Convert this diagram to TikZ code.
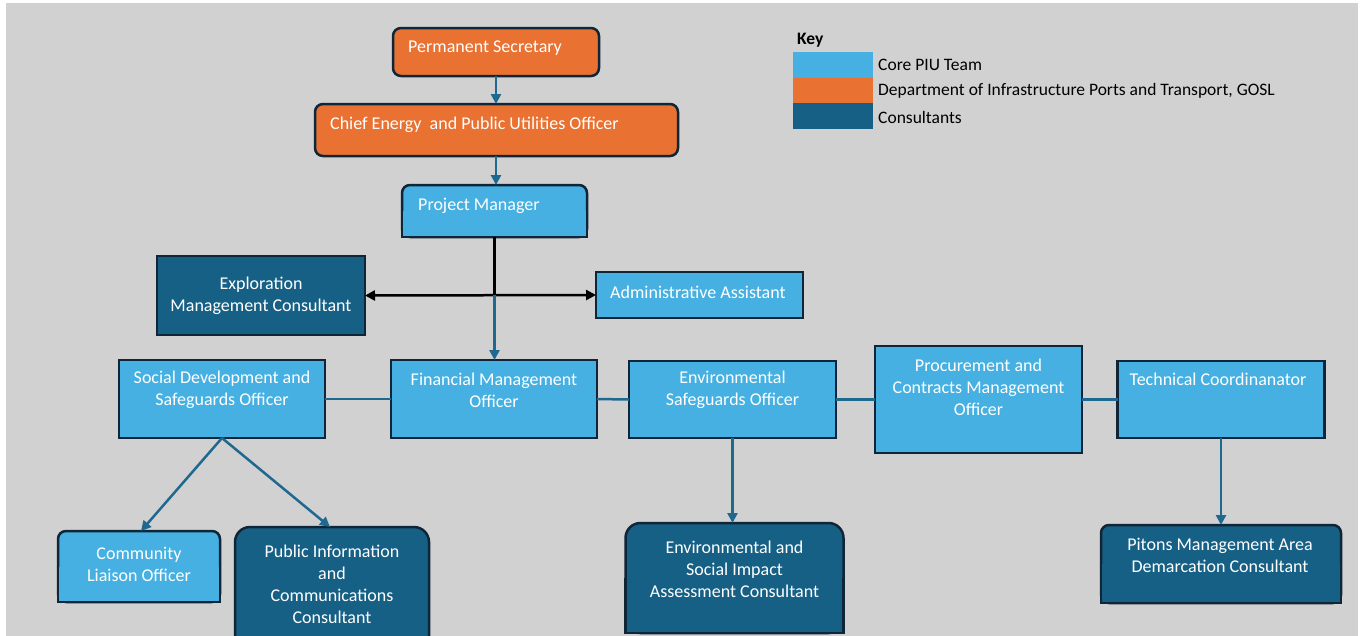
\documentclass[tikz,border=0pt]{standalone}
\usepackage{fontspec}
\setmainfont{Carlito}
\usetikzlibrary{arrows.meta}
\definecolor{bg}{HTML}{D1D1D1}
\definecolor{lb}{HTML}{45B0E1}
\definecolor{og}{HTML}{E97132}
\definecolor{db}{HTML}{176085}
\definecolor{bd}{HTML}{0E2638}
\definecolor{cn}{HTML}{1F6890}
\begin{document}
\begin{tikzpicture}[x=1pt,y=-1pt,
  box/.style={draw=bd, line width=2.5pt, rectangle, outer sep=0pt, inner sep=0pt},
  rbox/.style={box, rounded corners=8pt},
  txt/.style={text=white, font=\fontsize{18}{22}\selectfont, align=center, inner sep=0pt},
  keytxt/.style={text=black, font=\fontsize{17.5}{21}\selectfont, inner sep=0pt, anchor=west},
  swatch/.style={rectangle, draw=none, inner sep=0pt, outer sep=0pt, minimum width=80pt, minimum height=25.7pt},
  arr/.style={draw=cn, line width=2.5pt, -{Triangle[length=10pt,width=10pt]}},
  link/.style={draw=cn, line width=2.5pt},
  blk/.style={draw=black, line width=2.5pt},
  dblarr/.style={draw=black, line width=2.5pt, {Triangle[length=10pt,width=10pt]}-{Triangle[length=10pt,width=10pt]}}
]
\useasboundingbox (0,0) rectangle (1364,635);
\fill[white] (0,0) rectangle (1364,635);
\fill[bg] (6,3) rectangle (1358,640);

% top chain
\node[rbox, fill=og, minimum width=206pt, minimum height=48pt] (ps) at (496,52) {};
\node[txt, anchor=west] (psT) at (408,48) {Permanent Secretary};
\node[rbox, fill=og, minimum width=363pt, minimum height=52pt] (ce) at (496.5,130) {};
\node[txt, anchor=west] (ceT) at (330,125) {Chief Energy\ \ and Public Utilities Officer};
\node[rbox, fill=lb, minimum width=185pt, minimum height=52pt] (pm) at (494.5,211) {};
\fill[lb] (pm.west) rectangle (pm.south east);
\draw[bd, line width=2.5pt] (pm.west) |- (pm.south east) -- (pm.east);
\node[txt, anchor=west] (pmT) at (418,206) {Project Manager};

% middle level
\node[box, fill=db, minimum width=208pt, minimum height=79pt] (ex) at (261,295.5) {};
\node[txt] (exT) at (261,296) {Exploration\\Management Consultant};
\node[box, fill=lb, minimum width=207pt, minimum height=46pt] (adm) at (699.5,295) {};
\node[txt, anchor=west] (admT) at (610,292) {Administrative Assistant};

% officer row
\node[box, fill=lb, minimum width=206pt, minimum height=78pt] (sd) at (222,399) {};
\node[txt] (sdT) at (222,390) {Social Development and\\Safeguards Officer};
\node[box, fill=lb, minimum width=206pt, minimum height=78pt] (fm) at (494,399) {};
\node[txt] (fmT) at (494,390) {Financial Management\\Officer};
\node[box, fill=lb, minimum width=207pt, minimum height=77pt] (es) at (732.5,399.5) {};
\node[txt] (esT) at (732.5,390) {Environmental\\Safeguards Officer};
\node[box, fill=lb, minimum width=207pt, minimum height=107pt] (pc) at (978.5,399.5) {};
\node[txt] (pcT) at (978.5,387) {Procurement and\\Contracts Management\\Officer};
\node[box, fill=lb, minimum width=207pt, minimum height=77pt] (tc) at (1221,399.5) {};
\node[txt] (tcT) at (1218,379) {Technical Coordinanator};

% bottom row
\node[rbox, fill=lb, minimum width=162pt, minimum height=71pt] (cl) at (139,566.5) {};
\fill[lb] (cl.west) rectangle (cl.south east);
\draw[bd, line width=2.5pt] (cl.west) |- (cl.south east) -- (cl.east);
\node[txt] (clT) at (139,564) {Community\\Liaison Officer};

\node[box, rounded corners=15pt, fill=db, minimum width=194pt, minimum height=128pt] (pi) at (332,591) {};
\node[txt] (piT) at (332,584) {Public Information\\and\\Communications\\Consultant};

\node[box, rounded corners=15pt, fill=db, minimum width=218pt, minimum height=110pt] (ea) at (734.5,578) {};
\fill[db] (ea.west) rectangle (ea.south east);
\draw[bd, line width=2.5pt] (ea.west) |- (ea.south east) -- (ea.east);
\node[txt] (eaT) at (734.5,569) {Environmental and\\Social Impact\\Assessment Consultant};

\node[rbox, fill=db, minimum width=240pt, minimum height=78pt] (pt) at (1221,564) {};
\fill[db] (pt.west) rectangle (pt.south east);
\draw[bd, line width=2.5pt] (pt.west) |- (pt.south east) -- (pt.east);
\node[txt] (ptT) at (1220,555) {Pitons Management Area\\Demarcation Consultant};

% connectors
\draw[arr] (ps.south) -- (ps.south |- ce.north);
\draw[arr] (ce.south -| ps.south) -- (ps.south |- pm.north);
\coordinate (j) at (pm.south |- ex.east);
\draw[blk] (pm.south) -- (j);
\draw[dblarr] (ex.east) -- (adm.west);
\draw[arr] ([yshift=1pt]j) -- (pm.south |- fm.north);
\draw[link] (sd.east) -- (fm.west);
\draw[link] (fm.east) -- (es.west);
\draw[link] (es.east) -- (pc.west);
\draw[link] (pc.east) -- (tc.west);
\draw[arr] (sd.south) -- ([xshift=2pt]cl.north);
\draw[arr] (sd.south) -- ([xshift=-2pt]pi.north);
\draw[arr] (es.south) -- (es.south |- ea.north);
\draw[arr] (tc.south) -- (tc.south |- pt.north);

% key
\node[text=black, font=\bfseries\fontsize{17.5}{21}\selectfont, inner sep=0pt, anchor=west] (keyT) at (797,40) {Key};
\node[swatch, fill=lb] (k1) at (833,65) {};
\node[swatch, fill=og] (k2) at (833,90.5) {};
\node[swatch, fill=db] (k3) at (833,116) {};
\node[keytxt] (k1T) at (878,65) {Core PIU Team};
\node[keytxt] (k2T) at (878,91) {Department of Infrastructure Ports and Transport, GOSL};
\node[keytxt] (k3T) at (878,117) {Consultants};
\end{tikzpicture}
\end{document}
